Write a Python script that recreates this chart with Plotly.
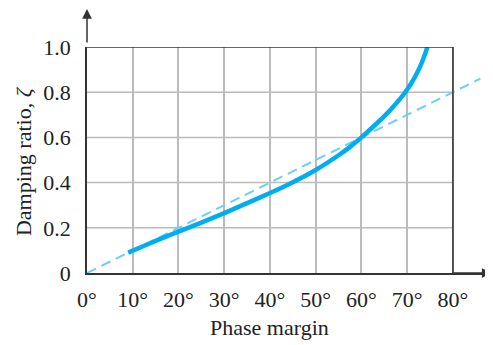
import plotly.graph_objects as go

# Data
pm_curve = [9, 12, 15, 20, 25, 30, 35, 40, 45, 50, 55, 57.5, 60, 62.5, 65, 67, 69, 70, 71, 72, 73, 74, 74.4]
zeta_curve = [0.09, 0.116, 0.142, 0.183, 0.223, 0.265, 0.309, 0.354, 0.402, 0.456, 0.521, 0.558, 0.60,
              0.646, 0.694, 0.737, 0.785, 0.812, 0.843, 0.879, 0.922, 0.975, 1.0]
pm_approx = [0, 86]
zeta_approx = [0, 0.86]
x_ticks = [0, 10, 20, 30, 40, 50, 60, 70, 80]
x_ticktext = ["0°", "10°", "20°", "30°", "40°", "50°", "60°", "70°", "80°"]
y_ticks = [0, 0.2, 0.4, 0.6, 0.8, 1.0]
y_ticktext = ["0", "0.2", "0.4", "0.6", "0.8", "1.0"]

FONT = "Times New Roman, Liberation Serif, serif"
GRID = "#BBBBBB"
AXIS = "#333333"
TXT = "#222222"

fig = go.Figure()
fig.add_trace(go.Scatter(x=pm_approx, y=zeta_approx, mode="lines",
                         line=dict(color="#6DCFF6", width=2, dash="10px,6px"),
                         showlegend=False, hoverinfo="skip"))
fig.add_trace(go.Scatter(x=pm_curve, y=zeta_curve, mode="lines",
                         line=dict(color="#00AEEF", width=4.5, shape="spline", smoothing=0.6),
                         showlegend=False, hoverinfo="skip"))

shapes = []
for yv in y_ticks[1:-1]:
    shapes.append(dict(type="line", xref="x", yref="y", x0=0, x1=80, y0=yv, y1=yv,
                       line=dict(color=GRID, width=1.5), layer="below"))
shapes.append(dict(type="line", xref="x", yref="y", x0=0, x1=80, y0=1, y1=1,
                   line=dict(color=AXIS, width=1.5), layer="above"))
shapes.append(dict(type="line", xref="x", yref="y", x0=80, x1=80, y0=0, y1=1,
                   line=dict(color=AXIS, width=1.5), layer="above"))
fig.update_layout(shapes=shapes)

annotations = [
    dict(xref="paper", yref="paper", x=0, y=1.19, ax=0, ay=40, axref="pixel", ayref="pixel",
         showarrow=True, arrowhead=2, arrowsize=1.3, arrowwidth=1.5, arrowcolor=AXIS, text=""),
    dict(xref="paper", yref="paper", x=1.004, y=0, ax=-40, ay=0, axref="pixel", ayref="pixel",
         showarrow=True, arrowhead=2, arrowsize=1.3, arrowwidth=1.5, arrowcolor=AXIS, text=""),
    dict(xref="paper", yref="paper", x=0.454, y=-0.239, text="Phase margin", showarrow=False,
         xanchor="center", yanchor="middle", font=dict(family=FONT, size=22, color=TXT)),
    dict(xref="paper", yref="paper", x=-0.156, y=0.496, text="Damping ratio, <i>ζ</i>", showarrow=False,
         textangle=-90, xanchor="center", yanchor="middle", font=dict(family=FONT, size=22, color=TXT)),
]
fig.update_layout(annotations=annotations)

fig.update_xaxes(range=[0, 88.1], tickvals=x_ticks, ticktext=x_ticktext, automargin=False,
                 showgrid=True, gridcolor=GRID, gridwidth=1.5, zeroline=False,
                 showline=True, linecolor=AXIS, linewidth=1.5,
                 ticks="outside", ticklen=6, tickcolor="rgba(0,0,0,0)",
                 tickfont=dict(family=FONT, size=22, color=TXT))
fig.update_yaxes(range=[0, 1], tickvals=y_ticks, ticktext=y_ticktext, automargin=False,
                 showgrid=False, zeroline=False,
                 showline=True, linecolor=AXIS, linewidth=1.5,
                 ticks="outside", ticklen=10, tickcolor="rgba(0,0,0,0)",
                 tickfont=dict(family=FONT, size=22, color=TXT))

# the page adds an 8px body margin, so the figure is sized to fill the rest of the window
fig.update_layout(width=485, height=337, margin=dict(l=79, r=3, t=39, b=72),
                  plot_bgcolor="white", paper_bgcolor="white")

fig.write_html("out.html")
